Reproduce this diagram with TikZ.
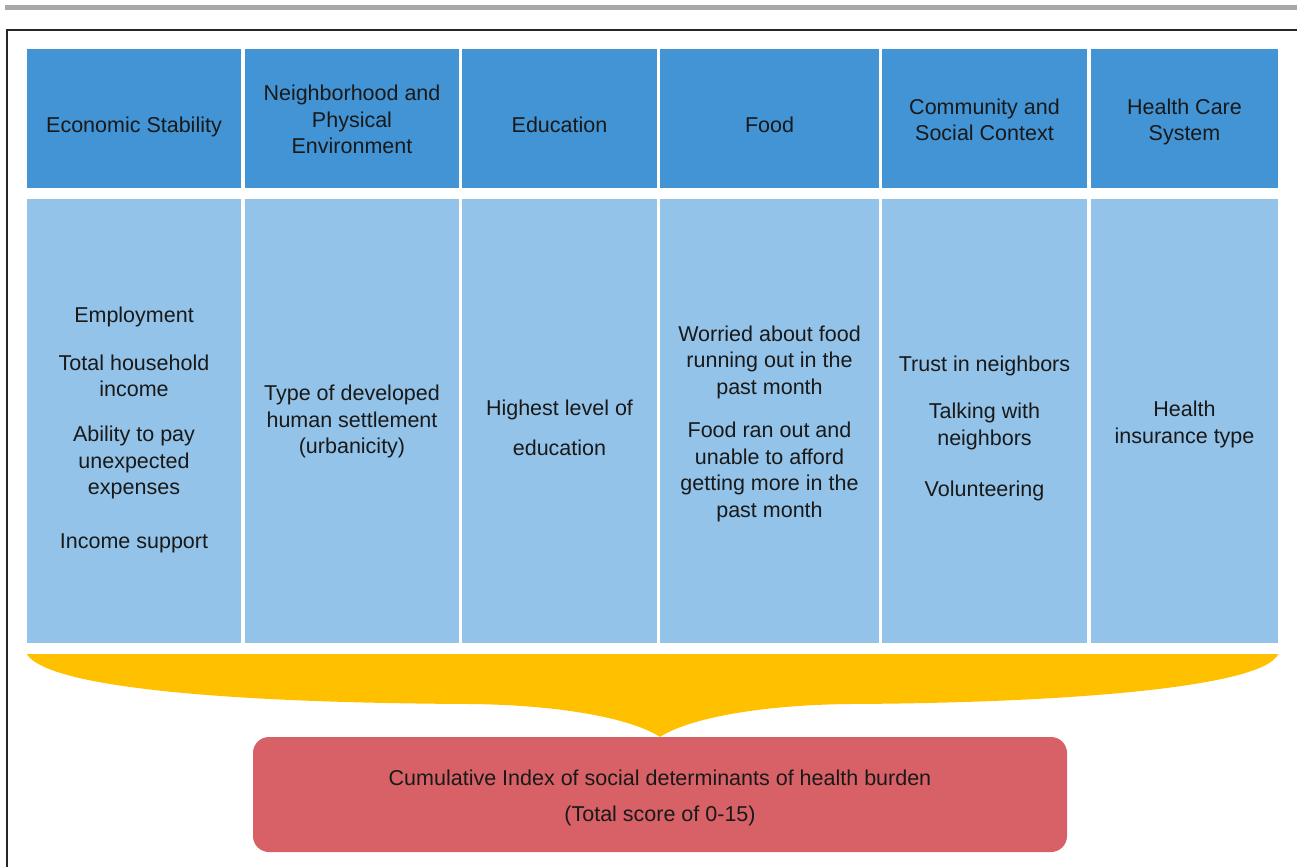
\documentclass[tikz,border=0pt]{standalone}
\usepackage{fontspec}
\setmainfont{Liberation Sans}
\usetikzlibrary{positioning, calc}

\definecolor{headblue}{RGB}{66,148,213}
\definecolor{cellblue}{RGB}{147,195,232}
\definecolor{braceyellow}{RGB}{255,192,0}
\definecolor{indexred}{RGB}{215,97,102}
\definecolor{rulegray}{RGB}{168,168,168}

\begin{document}
\begin{tikzpicture}[x=1pt, y=-1pt,
  head/.style={fill=headblue, inner sep=0pt, minimum height=139pt},
  cell/.style={fill=cellblue, inner sep=0pt, minimum height=444pt},
  txt/.style={align=center, inner sep=0pt, text=black!90,
              font=\fontsize{21.5}{26.5}\selectfont}
]
  \useasboundingbox (0,0) rectangle (1297,867);

  % Rule on top and the frame
  \fill[rulegray] (5,5) rectangle (1297,10);
  \draw[line width=2pt, black!85] (1297,30) -- (7,30) -- (7,867);

  % Domain columns: header box and item box
  \foreach \n/\xa/\xb in {econ/27/241, neigh/245/459, edu/462/657,
                          food/660/879, comm/882/1087, care/1091/1278}{
    \node[head, minimum width={(\xb-\xa)*1pt}] (h\n) at ({(\xa+\xb)/2}, 118.5) {};
    \node[cell, minimum width={(\xb-\xa)*1pt}] (b\n) at ({(\xa+\xb)/2}, 421) {};
  }

  % Domain names
  \node[txt] (lecon) at ($(hecon)+(0,8)$) {Economic Stability};
  \node[txt] (lneigh) at ($(hneigh)+(0,1)$) {Neighborhood and\\Physical\\Environment};
  \node[txt] (ledu) at ($(hedu)+(0,6.5)$) {Education};
  \node[txt] (lfood) at ($(hfood)+(0,6.5)$) {Food};
  \node[txt] (lcomm) at ($(hcomm)+(0,1.5)$) {Community and\\Social Context};
  \node[txt] (lcare) at ($(hcare)+(0,3.5)$) {Health Care\\System};

  % Items per domain
  \node[txt] (iecon) at ($(becon)+(0,9)$) {Employment\\[21pt]Total household\\income\\[18.5pt]Ability to pay\\unexpected\\expenses\\[27pt]Income support};
  \node[txt] (ineigh) at ($(bneigh)+(0,0.5)$) {Type of developed\\human settlement\\(urbanicity)};
  \node[txt] (iedu) at ($(bedu)+(0,6.5)$) {Highest level of\\[13.5pt]education};
  \node[txt] (ifood) at ($(bfood)+(0,2.5)$) {Worried about food\\running out in the\\past month\\[17pt]Food ran out and\\unable to afford\\getting more in the\\past month};
  \node[txt] (icomm) at ($(bcomm)+(0,7)$) {Trust in neighbors\\[21pt]Talking with\\neighbors\\[24.5pt]Volunteering};
  \node[txt] (icare) at ($(bcare)+(0,3.5)$) {Health\\insurance type};

  % Index box and its label
  \node[fill=indexred, rounded corners=16pt, inner sep=0pt,
        minimum width=814pt, minimum height=115pt] (index) at (660,794.5) {};
  \node[txt] (lindex) at ($(index)+(0,3)$) {Cumulative Index of social determinants of health burden\\[9.5pt](Total score of 0-15)};

  % Brace gathering the columns into the index
  \coordinate (bl) at ($(becon.south west)+(0,11)$);
  \coordinate (br) at ($(bcare.south east)+(0,11)$);
  \fill[braceyellow] (bl) -- (br)
    .. controls (1262,688) and (1060,703) .. (850,704)
    .. controls (760,705) and (690,718) .. (index.north)
    .. controls (630,718) and (560,705) .. (470,704)
    .. controls (250,703) and (50,690) .. cycle;
\end{tikzpicture}
\end{document}
